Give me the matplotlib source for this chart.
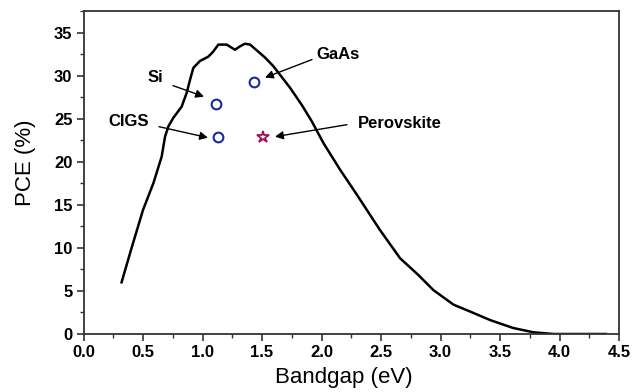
import matplotlib
matplotlib.use("Agg")
import matplotlib.pyplot as plt
from matplotlib.ticker import MultipleLocator, FormatStrFormatter

# SQ limit curve
bandgap = [0.32, 0.40, 0.50, 0.587, 0.657, 0.685, 0.713, 0.755, 0.825, 0.867, 0.895,
           0.923, 0.979, 1.049, 1.091, 1.133, 1.203, 1.273, 1.315, 1.357, 1.40, 1.525,
           1.595, 1.651, 1.735, 1.834, 1.918, 2.015, 2.155, 2.296, 2.49, 2.66, 2.81,
           2.94, 3.11, 3.25, 3.42, 3.61, 3.78, 3.95, 4.39]
pce = [6.0, 9.8, 14.4, 17.5, 20.6, 22.9, 24.1, 25.1, 26.4, 28.0, 29.5,
       30.9, 31.7, 32.2, 32.8, 33.6, 33.6, 33.0, 33.4, 33.7, 33.6, 32.1,
       31.1, 30.1, 28.6, 26.6, 24.7, 22.2, 19.1, 16.2, 12.1, 8.8, 6.9,
       5.1, 3.4, 2.6, 1.6, 0.7, 0.2, 0.0, 0.0]

# Record devices
circ_names = ["Si", "GaAs", "CIGS"]
circ_bg = [1.11, 1.43, 1.13]
circ_pce = [26.7, 29.2, 22.9]
perov_bg = [1.51]
perov_pce = [22.9]

plt.rcParams['font.family'] = ['Liberation Sans', 'DejaVu Sans']

fig = plt.figure(figsize=(6.33, 3.92), dpi=100)
ax = fig.add_axes([83.5/633, 1 - 334/392, (619 - 83.5)/633, (334 - 11)/392])

ax.plot(bandgap, pce, color='black', lw=1.8, solid_joinstyle='round')
ax.plot(circ_bg, circ_pce, 'o', ms=7, mfc='none', mec='#1a2a9a', mew=1.5, ls='none')
ax.plot(perov_bg, perov_pce, '*', ms=9, mfc='none', mec='#a0105a', mew=1.3, ls='none')

ax.set_xlim(0, 4.5)
ax.set_ylim(0, 37.5)
ax.xaxis.set_major_locator(MultipleLocator(0.5))
ax.xaxis.set_minor_locator(MultipleLocator(0.25))
ax.yaxis.set_major_locator(MultipleLocator(5))
ax.yaxis.set_minor_locator(MultipleLocator(2.5))
ax.xaxis.set_major_formatter(FormatStrFormatter('%.1f'))
ax.tick_params(which='major', length=5, width=1.2, color='#333333', labelsize=12, pad=3)
ax.tick_params(which='minor', length=3, width=1.0, color='#333333')
for lab in ax.get_xticklabels() + ax.get_yticklabels():
    lab.set_fontweight('bold')
for s in ax.spines.values():
    s.set_linewidth(1.3)
    s.set_color('#333333')

ax.set_xlabel('Bandgap (eV)', fontsize=16, labelpad=5)
ax.xaxis.label.set_x(0.487)
ax.set_ylabel('PCE (%)', fontsize=16, labelpad=13)
ax.yaxis.label.set_y(0.531)

def px(x, y):
    return ((x - 83.5) / 119.0, (334 - y) / 8.6)

arrowprops = dict(arrowstyle='-|>', color='black', lw=1.0, mutation_scale=12, shrinkA=0, shrinkB=0)
labels = [("Si", (155, 78), (173, 86), (204, 97)),
          ("CIGS", (129, 122), (159, 127), (208, 138)),
          ("GaAs", (338, 55), (312, 60), (265, 78)),
          ("Perovskite", (400, 124), (347, 125), (275, 137))]
for name, tpos, astart, aend in labels:
    ax.annotate('', xy=px(*aend), xytext=px(*astart), arrowprops=arrowprops)
    ax.text(*px(*tpos), name, ha='center', va='center', fontsize=12, fontweight='bold')

fig.savefig('out.png', dpi=100)
